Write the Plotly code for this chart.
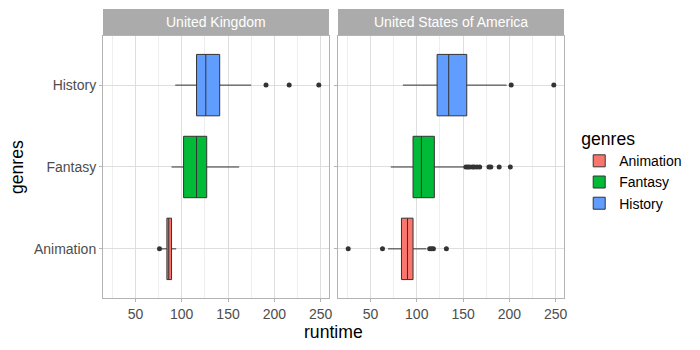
import plotly.graph_objects as go

genres = ["Animation", "Fantasy", "History"]
countries = ["United Kingdom", "United States of America"]
colors = {"Animation": "#F8766D", "Fantasy": "#00BA38", "History": "#619CFF"}

# box statistics per country, per genre (order of `genres`)
uk_q1 = [84, 102, 116]
uk_median = [86, 116, 126]
uk_q3 = [89, 127, 141]
uk_low = [78, 89, 93]
uk_high = [94, 162, 175]
uk_outliers = {"Animation": [76], "Fantasy": [], "History": [191, 216, 248]}

us_q1 = [83.5, 96, 122]
us_median = [90, 105, 134.5]
us_q3 = [96, 119, 154]
us_low = [69, 72, 85]
us_high = [110.5, 152, 197]
us_outliers = {
    "Animation": [26, 63, 114, 116, 118, 132],
    "Fantasy": [153, 155, 157, 160, 162, 165, 168, 178, 180, 189, 201],
    "History": [202, 248],
}

x_ticks = [50, 100, 150, 200, 250]

FONT = "Liberation Sans, Arial, sans-serif"
fig = go.Figure()

panels = [
    ("x", "y", uk_q1, uk_median, uk_q3, uk_low, uk_high, uk_outliers, True),
    ("x2", "y2", us_q1, us_median, us_q3, us_low, us_high, us_outliers, False),
]
for xa, ya, q1, med, q3, lo, hi, outl, show in panels:
    for i, g in enumerate(genres):
        fig.add_trace(go.Box(
            y=[g], q1=[q1[i]], median=[med[i]], q3=[q3[i]],
            lowerfence=[lo[i]], upperfence=[hi[i]],
            orientation="h", name=g, legendgroup=g, showlegend=show,
            fillcolor=colors[g], line=dict(color="#333333", width=1),
            width=0.75, whiskerwidth=0, boxpoints=False,
            xaxis=xa, yaxis=ya,
        ))
    for g in genres:
        if outl[g]:
            fig.add_trace(go.Scatter(
                x=outl[g], y=[g] * len(outl[g]), mode="markers",
                marker=dict(color="#333333", size=5),
                showlegend=False, hoverinfo="x", xaxis=xa, yaxis=ya,
            ))

panel_top = 0.9066
axis_common = dict(
    range=[15, 259], tickvals=x_ticks, ticks="outside", ticklen=3,
    tickcolor="#B3B3B3", showline=True, mirror=True, linecolor="#B3B3B3",
    linewidth=1, showgrid=True, gridcolor="#DEDEDE", gridwidth=1,
    minor=dict(dtick=25, tick0=0, showgrid=True, gridcolor="#EEEEEE", gridwidth=0.5),
    tickfont=dict(size=14, color="#4D4D4D", family=FONT), zeroline=False,
)
yaxis_common = dict(
    type="category", categoryorder="array", categoryarray=genres,
    range=[-0.6, 2.6], domain=[0, panel_top], ticks="outside", ticklen=3,
    tickcolor="#B3B3B3", showline=True, mirror=True, linecolor="#B3B3B3",
    linewidth=1, showgrid=True, gridcolor="#DEDEDE", gridwidth=1,
    tickfont=dict(size=14, color="#4D4D4D", family=FONT), zeroline=False,
)
d1 = [0, 0.4902]
d2 = [0.5098, 1]
fig.update_layout(
    width=700, height=350,
    margin=dict(l=103, r=136, t=9, b=52),
    plot_bgcolor="white", paper_bgcolor="white",
    font=dict(family=FONT, color="black"),
    xaxis=dict(domain=d1, anchor="y", **axis_common),
    xaxis2=dict(domain=d2, anchor="y2", **axis_common),
    yaxis=dict(anchor="x", **yaxis_common),
    yaxis2=dict(anchor="x2", matches="y", showticklabels=False, **yaxis_common),
    legend=dict(
        title=dict(text="genres", font=dict(size=17.6, family=FONT, color="black")),
        font=dict(size=14, family=FONT, color="black"),
        x=1.033, xanchor="left", y=0.44, yanchor="middle",
        traceorder="normal", tracegroupgap=0, bgcolor="rgba(0,0,0,0)",
    ),
    showlegend=True,
)

for (d, name) in zip([d1, d2], countries):
    fig.add_shape(type="rect", xref="paper", yref="paper",
                  x0=d[0], x1=d[1], y0=panel_top, y1=1.0,
                  fillcolor="#ABABAB", line=dict(width=0), layer="below")
    fig.add_annotation(text=name, xref="paper", yref="paper",
                       x=(d[0] + d[1]) / 2, y=(panel_top + 1) / 2,
                       showarrow=False, xanchor="center", yanchor="middle",
                       font=dict(size=14, color="white", family=FONT))

fig.add_annotation(text="runtime", xref="paper", yref="paper", x=0.499, y=-0.1176,
                   showarrow=False, xanchor="center", yanchor="middle",
                   font=dict(size=17.6, color="black", family=FONT))
fig.add_annotation(text="genres", xref="paper", yref="paper", x=-0.1866, y=0.453,
                   showarrow=False, xanchor="center", yanchor="middle", textangle=-90,
                   font=dict(size=17.6, color="black", family=FONT))

fig.write_html("out.html")
